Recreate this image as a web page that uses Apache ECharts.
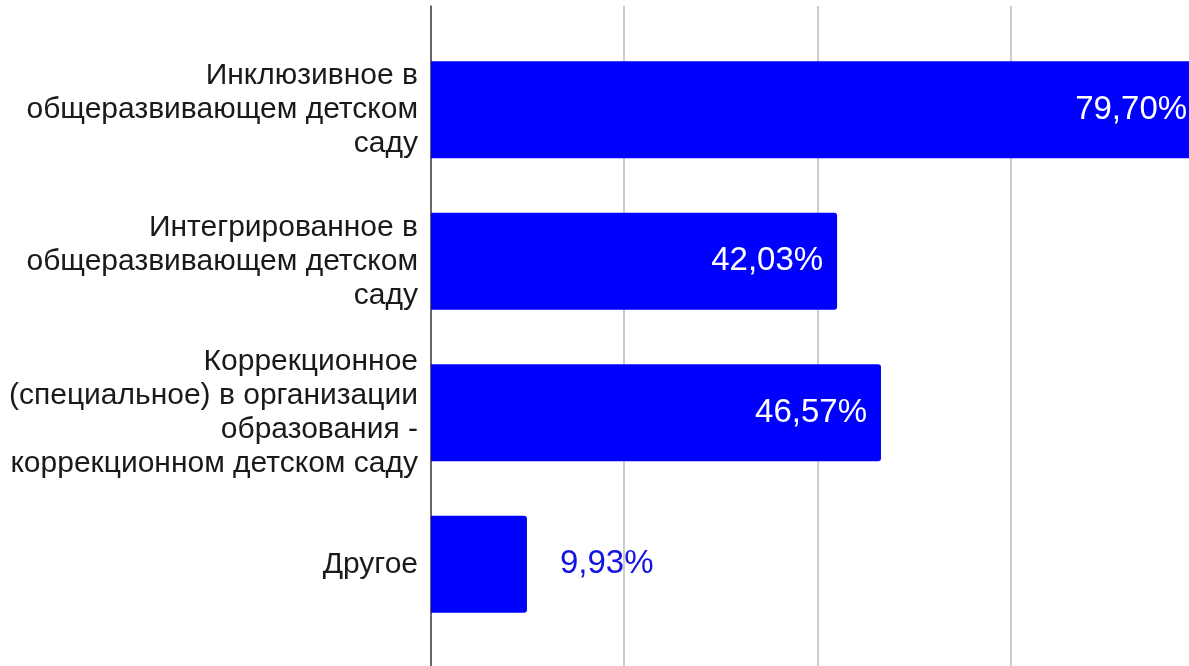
<!DOCTYPE html>
<html>
<head>
<meta charset="utf-8">
<script src="https://cdn.jsdelivr.net/npm/echarts@6/dist/echarts.min.js"></script>
<style>html,body{margin:0;padding:0;background:#fff}#c{width:1189px;height:666px}</style>
</head>
<body>
<div id="c"></div>
<script>
const categories = [
  'Инклюзивное в\nобщеразвивающем детском\nсаду',
  'Интегрированное в\nобщеразвивающем детском\nсаду',
  'Коррекционное\n(специальное) в организации\nобразования -\nкоррекционном детском саду',
  'Другое'
];
const values = [79.70, 42.03, 46.57, 9.93];
const axisMin = 0;
const axisMax = 78.45;   // visible part of the axis (chart is cropped just before 80%)
const axisInterval = 20;

const fmt = v => v.toFixed(2).replace('.', ',') + '%';
const chart = echarts.init(document.getElementById('c'));
const seriesData = values.map(v => {
  const outside = v < 20;
  return {
    value: v,
    label: outside
      ? { position: 'right', distance: 33, color: '#1414e0' }
      : { position: 'insideRight', distance: 14, color: '#ffffff' }
  };
});
chart.setOption({
  animation: false,
  grid: [
    { left: 431, right: 0, top: 34, bottom: 26 },
    { left: 431, right: 0, top: 6, bottom: 0 }
  ],
  xAxis: [
    { type: 'value', gridIndex: 0, min: axisMin, max: axisMax, interval: axisInterval,
      splitLine: { show: false }, axisLine: { show: false }, axisTick: { show: false }, axisLabel: { show: false } },
    { type: 'value', gridIndex: 1, min: axisMin, max: axisMax, interval: axisInterval,
      splitLine: { show: true, showMaxLine: false, lineStyle: { color: '#cccccc', width: 2 } },
      axisLine: { show: false }, axisTick: { show: false }, axisLabel: { show: false } }
  ],
  yAxis: [
    { type: 'category', gridIndex: 0, data: categories, inverse: true,
      axisLine: { show: false }, axisTick: { show: false }, splitLine: { show: false },
      axisLabel: { margin: 13, fontFamily: 'Liberation Sans', fontSize: 30, lineHeight: 34, color: '#1a1a1a', align: 'right' } },
    { type: 'value', gridIndex: 1, min: 0, max: 1,
      axisLine: { show: true, lineStyle: { color: '#444444', width: 1.5 } },
      axisTick: { show: false }, axisLabel: { show: false }, splitLine: { show: false } }
  ],
  series: [{
    type: 'bar',
    xAxisIndex: 0, yAxisIndex: 0,
    data: seriesData,
    clip: false,
    barCategoryGap: '36%',
    itemStyle: { color: '#0000ff', borderRadius: [0, 3, 3, 0] },
    label: { show: true, fontFamily: 'Liberation Sans', fontSize: 33, formatter: p => fmt(p.value) }
  }]
});
</script>
</body>
</html>
